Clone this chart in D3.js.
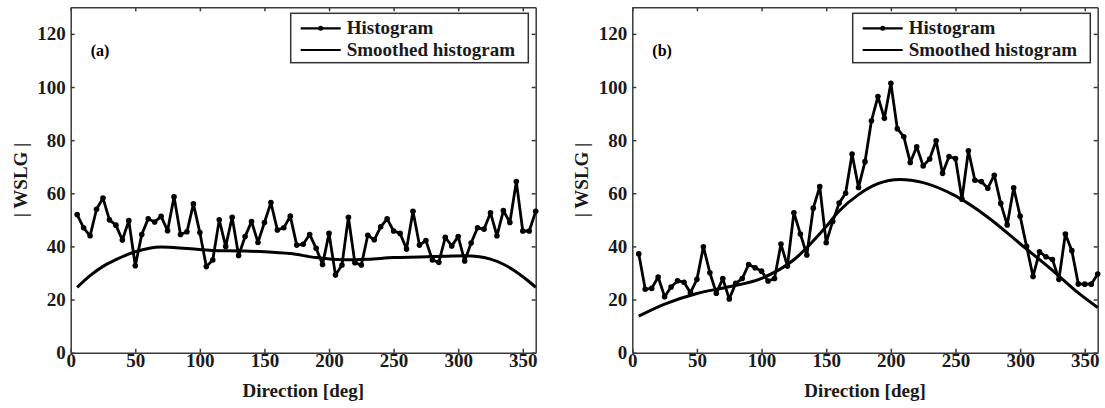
<!DOCTYPE html>
<html>
<head>
<meta charset="utf-8">
<script src="https://cdn.jsdelivr.net/npm/d3@7"></script>
<style>
  body { margin: 0; background: #fff; }
  svg { display: block; }
  .axis path, .axis line { stroke: #3a3a3a; stroke-width: 1.5; }
</style>
</head>
<body>
<svg width="1105" height="408" font-family="Liberation Serif, Times New Roman, serif" font-weight="bold"></svg>
<script>
// directions of the histogram bins
const directions = d3.range(5, 361, 5);

const histA = [52, 47, 44, 54, 58.2, 50, 48, 42.4, 49.7, 32.7,
  44.5, 50.4, 49.2, 51.3, 45.9, 58.7, 44.5, 45.5, 56, 45.2,
  32.4, 34.9, 50, 40, 51, 36.6, 43.7, 49.4, 41.5, 49,
  56.5, 46.2, 47, 51.4, 40.5, 40.8, 44.5, 39.3, 33.2, 44.9,
  29.2, 33, 51, 33.9, 33, 44.2, 42.5, 47.4, 50.4, 45.8,
  44.9, 39, 53.2, 40.5, 42.2, 34.9, 34, 43.4, 40.2, 43.7,
  34.5, 41.3, 47, 46.5, 52.7, 44, 53.5, 49, 64.4, 45.8,
  45.8, 53.2];

const histB = [37.2, 23.9, 24.2, 28.5, 21.1, 24.7, 27.1, 26.5, 22.6, 27.6,
  39.9, 30.1, 22.4, 27.9, 20.2, 26.1, 27.9, 33.2, 32, 30.7,
  27, 27.9, 40.9, 32.6, 52.7, 44.7, 36.8, 54.4, 62.5, 41.4,
  49.4, 56.3, 60, 74.8, 62.2, 71.9, 87.3, 96.4, 88.2, 101.4,
  84.3, 81.3, 71.6, 77.5, 70.3, 72.9, 79.8, 67.5, 73.8, 73.1,
  57.8, 76, 64.9, 64.4, 61.9, 66.8, 56.2, 48.1, 62.1, 51.4,
  40, 28.7, 38, 36.1, 35.1, 27.6, 44.7, 38.4, 25.9, 25.8,
  25.8, 29.6];

// smoothed histogram, read at a few directions
const smoothDirA = [5, 15, 25, 35, 50, 70, 90, 110, 130, 150, 170, 190, 210, 230, 250, 270, 290, 305, 315, 325, 335, 345, 355, 360];
const smoothA = [24.6, 29, 32.5, 35, 38, 39.8, 39.2, 38.5, 38.3, 38, 37.3, 35.8, 35, 35.2, 35.8, 36, 36.3, 36.5, 36.2, 35.2, 33.3, 30.4, 26.7, 24.6];

const smoothDirB = [5, 25, 50, 75, 100, 125, 150, 160, 175, 190, 207, 225, 250, 275, 300, 325, 345, 360];
const smoothB = [13.8, 18.3, 22.3, 24.8, 28, 35, 47.5, 53.3, 59.5, 63.6, 65.2, 64, 59, 51, 41, 31, 22.5, 17];

const xTicks = [0, 50, 100, 150, 200, 250, 300, 350];
const yTicks = [0, 20, 40, 60, 80, 100, 120];
const legendLabels = ["Histogram", "Smoothed histogram"];

const serif = "Liberation Serif, Times New Roman, serif";
const svg = d3.select("svg");

function styleTicks(sel) {
  sel.selectAll("text")
      .attr("font-family", serif)
      .attr("font-weight", "bold")
      .attr("font-size", 19)
      .attr("fill", "#1a1a1a");
}

function drawPanel(left, right, hist, sDir, sVal, tag) {
  const top = 7.3, bottom = 352.7;
  const x = d3.scaleLinear().domain([0, 360]).range([left, right]);
  const y = d3.scaleLinear().domain([0, 130]).range([bottom, top]);
  const g = svg.append("g");

  g.append("g").attr("class", "axis")
      .attr("transform", `translate(0,${bottom})`)
      .call(d3.axisBottom(x).tickValues(xTicks).tickSizeInner(-4).tickSizeOuter(0).tickPadding(1))
      .call(styleTicks);
  g.append("g").attr("class", "axis")
      .attr("transform", `translate(0,${top})`)
      .call(d3.axisTop(x).tickValues(xTicks).tickSizeInner(-4).tickSizeOuter(0).tickFormat(""));
  g.append("g").attr("class", "axis")
      .attr("transform", `translate(${left},0)`)
      .call(d3.axisLeft(y).tickValues(yTicks).tickSizeInner(-4).tickSizeOuter(0).tickPadding(5))
      .call(styleTicks);
  g.append("g").attr("class", "axis")
      .attr("transform", `translate(${right},0)`)
      .call(d3.axisRight(y).tickValues(yTicks).tickSizeInner(-4).tickSizeOuter(0).tickFormat(""));

  // smoothed curve
  const smooth = sDir.map((d, i) => [d, sVal[i]]);
  g.append("path")
      .datum(smooth)
      .attr("fill", "none")
      .attr("stroke", "#000")
      .attr("stroke-width", 3)
      .attr("d", d3.line().x(d => x(d[0])).y(d => y(d[1])).curve(d3.curveMonotoneX));

  // histogram
  const pts = directions.map((d, i) => [d, hist[i]]);
  g.append("path")
      .datum(pts)
      .attr("fill", "none")
      .attr("stroke", "#000")
      .attr("stroke-width", 2.8)
      .attr("stroke-linejoin", "round")
      .attr("d", d3.line().x(d => x(d[0])).y(d => y(d[1])));
  g.selectAll(".dot")
      .data(pts)
      .enter().append("circle")
      .attr("cx", d => x(d[0]))
      .attr("cy", d => y(d[1]))
      .attr("r", 2.8)
      .attr("fill", "#000");

  // panel tag
  g.append("text")
      .attr("x", left + 20)
      .attr("y", 56)
      .attr("font-size", 16)
      .text(tag);

  // axis titles
  g.append("text")
      .attr("x", (left + right) / 2)
      .attr("y", 397)
      .attr("text-anchor", "middle")
      .attr("font-size", 19)
      .attr("fill", "#1a1a1a")
      .text("Direction [deg]");
  g.append("text")
      .attr("transform", `translate(${left - 44},${(top + bottom) / 2}) rotate(-90)`)
      .attr("text-anchor", "middle")
      .attr("font-size", 19)
      .attr("fill", "#1a1a1a")
      .text("| WSLG |");

  // legend
  const lx = right - 245, ly = 13.3;
  const lg = g.append("g");
  lg.append("rect")
      .attr("x", lx).attr("y", ly)
      .attr("width", 237.6).attr("height", 49.4)
      .attr("fill", "#fff")
      .attr("stroke", "#333")
      .attr("stroke-width", 1.5);
  legendLabels.forEach((lab, i) => {
    const yy = ly + 15 + i * 21.7;
    lg.append("line")
        .attr("x1", lx + 10).attr("x2", lx + 50)
        .attr("y1", yy).attr("y2", yy)
        .attr("stroke", "#000").attr("stroke-width", 2.2);
    if (i === 0) {
      lg.append("circle").attr("cx", lx + 30).attr("cy", yy).attr("r", 2.5).attr("fill", "#000");
    }
    lg.append("text")
        .attr("x", lx + 56)
        .attr("y", yy + 6)
        .attr("font-size", 19)
        .attr("fill", "#1a1a1a")
        .text(lab);
  });
}

drawPanel(70.7, 535.7, histA, smoothDirA, smoothA, "(a)");
drawPanel(632.3, 1097.7, histB, smoothDirB, smoothB, "(b)");
</script>
</body>
</html>
